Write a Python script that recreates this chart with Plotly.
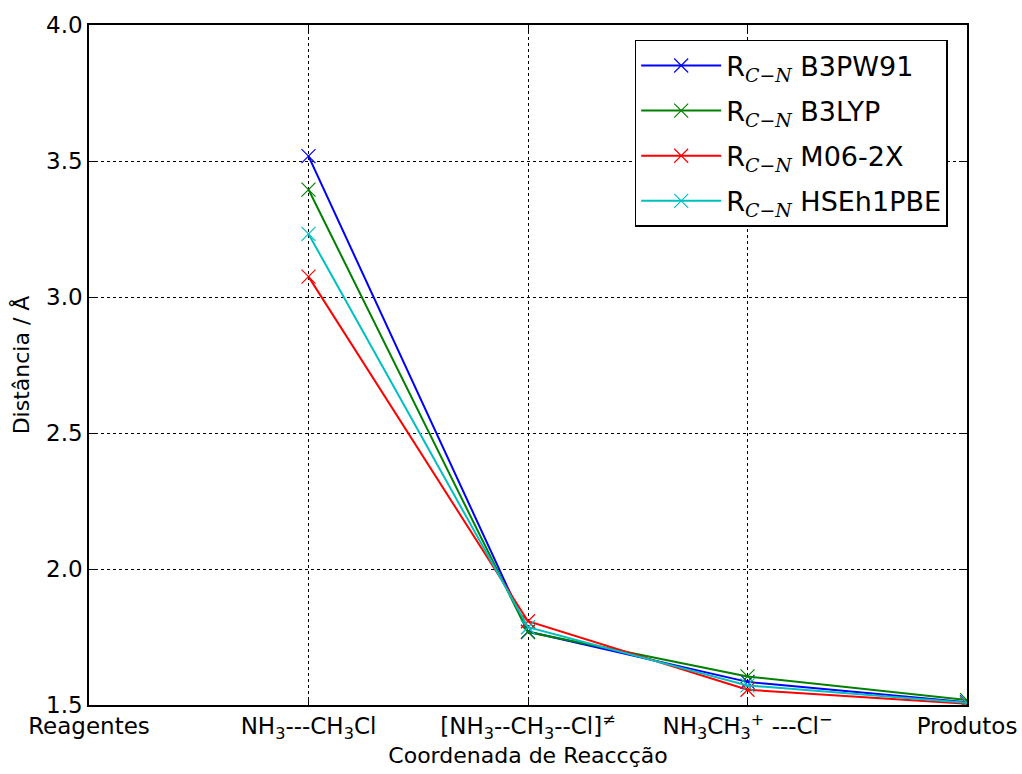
import plotly.graph_objects as go

categories = [
    "Reagentes",
    "NH<sub>3</sub>---CH<sub>3</sub>Cl",
    "[NH<sub>3</sub>--CH<sub>3</sub>--Cl]<sup>≠</sup>",
    "NH<sub>3</sub>CH<sub>3</sub><sup>+</sup> ---Cl<sup>−</sup>",
    "Produtos",
]
x_pos = [1, 2, 3, 4]

b3pw91 = [3.518, 1.770, 1.585, 1.510]
b3lyp = [3.395, 1.768, 1.605, 1.518]
m062x = [3.075, 1.808, 1.556, 1.505]
hseh1pbe = [3.232, 1.786, 1.572, 1.508]

sub = "R<sub><span style='font-family:DejaVu Serif'><i>C−N</i></span></sub> "
series = [
    (sub + "B3PW91", b3pw91, "#0000ff"),
    (sub + "B3LYP", b3lyp, "#008000"),
    (sub + "M06-2X", m062x, "#ff0000"),
    (sub + "HSEh1PBE", hseh1pbe, "#00bfbf"),
]

fig = go.Figure()
for i, (name, vals, col) in enumerate(series):
    fig.add_trace(go.Scatter(
        x=x_pos, y=vals, name=name, mode="lines+markers",
        legendgroup=f"g{i}",
        line=dict(color=col, width=2),
        marker=dict(symbol="x-thin", size=14, line=dict(color=col, width=1.2)),
    ))

font = "DejaVu Sans"
fig.update_layout(
    width=1022, height=774,
    margin=dict(l=89, r=55, t=25, b=69, autoexpand=False),
    paper_bgcolor="white", plot_bgcolor="white",
    font=dict(family=font, size=23, color="black"),
    showlegend=True,
    legend=dict(
        x=0.978, y=0.978, xanchor="right", yanchor="top",
        bgcolor="white", bordercolor="black", borderwidth=1.5,
        font=dict(size=27), tracegroupgap=7, itemwidth=80,
    ),
    xaxis=dict(
        range=[0, 4], tickmode="array", tickvals=list(range(5)), ticktext=categories,
        showline=True, linecolor="black", linewidth=1.5, mirror="allticks",
        ticks="inside", ticklen=8, tickcolor="black",
        showgrid=True, gridcolor="black", griddash="dot", gridwidth=1,
        zeroline=False, automargin=False,
        title=dict(text="Coordenada de Reaccção", font=dict(size=22), standoff=4),
    ),
    yaxis=dict(
        range=[1.5, 4.0], tickmode="array", tickvals=[1.5, 2.0, 2.5, 3.0, 3.5, 4.0],
        tickformat=".1f",
        showline=True, linecolor="black", linewidth=1.5, mirror="allticks",
        ticks="inside", ticklen=8, tickcolor="black",
        showgrid=True, gridcolor="black", griddash="dot", gridwidth=1,
        zeroline=False, automargin=False,
        title=dict(text="Distância / Å", font=dict(size=22), standoff=10),
    ),
)

fig.write_html(
    "out.html",
    config={"displayModeBar": False},
    post_script="document.documentElement.style.overflow='hidden';"
                "document.body.style.margin='0';document.body.style.overflow='hidden';",
)
